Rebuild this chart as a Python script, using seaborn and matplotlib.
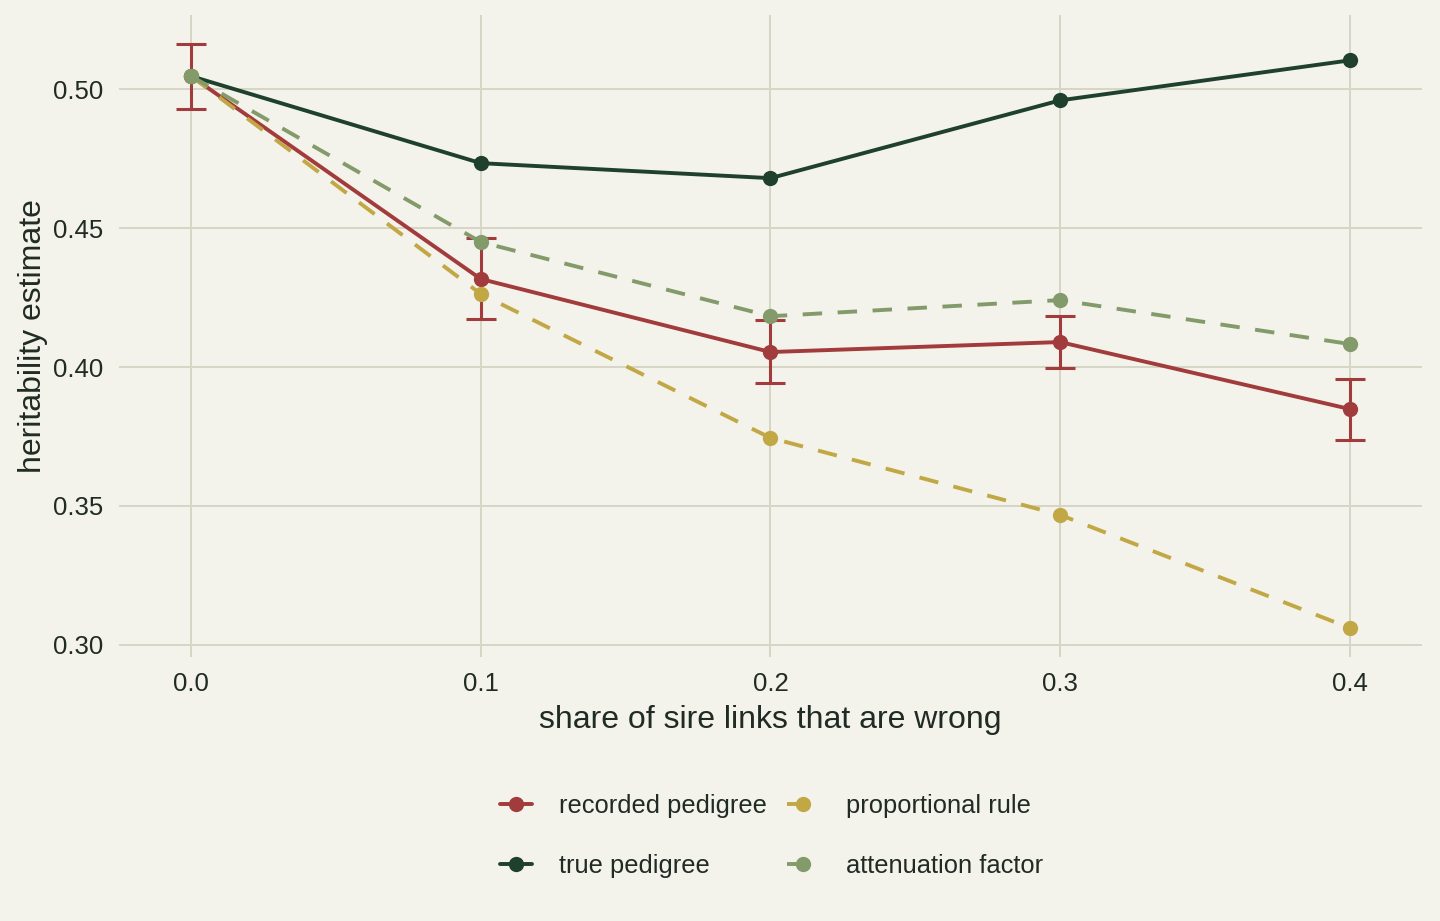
import numpy as np
import pandas as pd
import matplotlib
matplotlib.use("Agg")
import matplotlib.pyplot as plt
import seaborn as sns

# share of sire links that are wrong
share = [0.0, 0.1, 0.2, 0.3, 0.4]

# heritability estimates per method
recorded = [0.5047, 0.4317, 0.4054, 0.4090, 0.3849]
true_ped = [0.5047, 0.4734, 0.4680, 0.4960, 0.5104]
proportional = [0.5047, 0.4263, 0.3745, 0.3468, 0.3061]
attenuation = [0.5047, 0.4450, 0.4183, 0.4241, 0.4083]

# error bars for the recorded pedigree
rec_low = [0.4928, 0.4173, 0.3942, 0.3996, 0.3737]
rec_high = [0.5162, 0.4464, 0.4169, 0.4183, 0.3957]

methods = ["recorded pedigree", "true pedigree", "proportional rule", "attenuation factor"]
colors = {"recorded pedigree": "#A23B3B", "true pedigree": "#1E402C",
          "proportional rule": "#C2A845", "attenuation factor": "#839B6B"}

df = pd.DataFrame({
    "share": share * 4,
    "h2": recorded + true_ped + proportional + attenuation,
    "method": np.repeat(methods, len(share)),
})

bg = "#F3F2EB"
grid = "#D6D6C6"
txt = "#1F2B23"

sns.set_theme(style="whitegrid", rc={
    "figure.facecolor": bg, "axes.facecolor": bg, "savefig.facecolor": bg,
    "grid.color": grid, "grid.linewidth": 1.4,
    "axes.edgecolor": bg, "text.color": txt,
    "axes.labelcolor": txt, "xtick.color": grid, "ytick.color": grid,
    "xtick.labelcolor": txt, "ytick.labelcolor": txt,
})
plt.rcParams["font.family"] = ["Liberation Sans", "DejaVu Sans"]

fig = plt.figure(figsize=(14.4, 9.21), dpi=100)
ax = fig.add_axes([0.0825, 0.2866, 0.905, 0.697])

yerr = [np.array(recorded) - np.array(rec_low), np.array(rec_high) - np.array(recorded)]
ax.errorbar(share, recorded, yerr=yerr, fmt="none", ecolor=colors["recorded pedigree"],
            elinewidth=2.2, capsize=10.5, capthick=2.2, zorder=2)

sns.lineplot(data=df, x="share", y="h2", hue="method", style="method",
             hue_order=methods, style_order=methods, palette=colors,
             dashes={"recorded pedigree": "", "true pedigree": "",
                     "proportional rule": (5, 4), "attenuation factor": (5, 4)},
             markers={m: "o" for m in methods}, markersize=11, markeredgewidth=0,
             linewidth=2.8, ax=ax, zorder=3)

handles, labels = ax.get_legend_handles_labels()
ax.get_legend().remove()
fig.legend(handles, labels, loc="center", bbox_to_anchor=(0.536, 0.0923), ncol=2,
           frameon=False, fontsize=18.4, labelspacing=1.43, columnspacing=0.8,
           handlelength=1.25, handletextpad=1.05)

ax.set_xlim(-0.025, 0.425)
ax.set_ylim(0.2956, 0.5267)
ax.set_xticks(share)
ax.set_xticklabels(["0.0", "0.1", "0.2", "0.3", "0.4"])
ax.set_yticks([0.30, 0.35, 0.40, 0.45, 0.50])
ax.set_yticklabels(["0.30", "0.35", "0.40", "0.45", "0.50"])
ax.tick_params(axis="both", length=3, width=1.4, labelsize=18.5, pad=8)
ax.set_xlabel("share of sire links that are wrong", fontsize=23, labelpad=6)
ax.set_ylabel("heritability estimate", fontsize=23, labelpad=4)
for s in ax.spines.values():
    s.set_visible(False)

fig.savefig("out.png", dpi=100)
